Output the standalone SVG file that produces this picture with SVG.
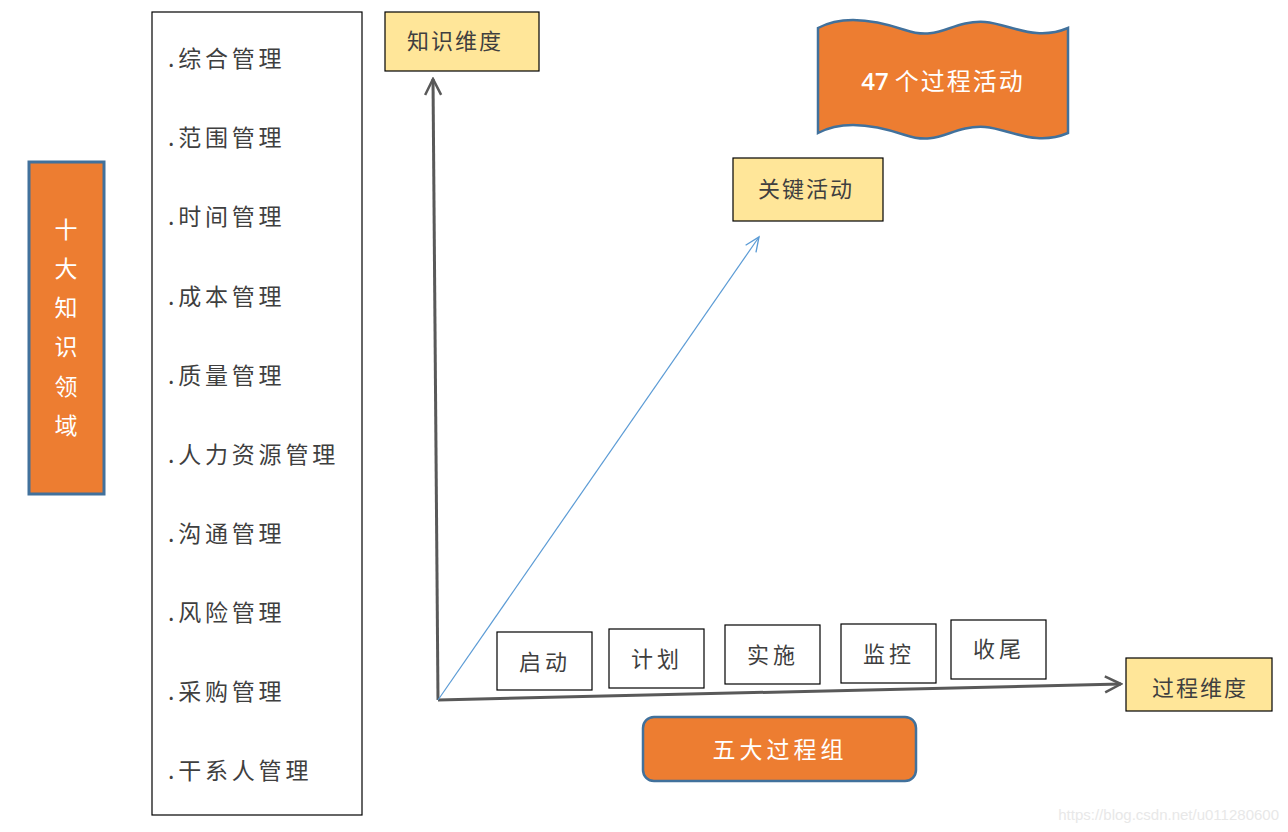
<svg xmlns="http://www.w3.org/2000/svg" width="1288" height="832" viewBox="0 0 1288 832">
<style>
.cjk{font-family:"Noto Sans CJK SC","Noto Sans",sans-serif;}
.dark{fill:#3f3f3f;font-size:22px;}
.white{fill:#ffffff;font-size:23px;}
.list{fill:#3f3f3f;font-size:23px;letter-spacing:3.8px;}
.yel{fill:#FFE699;stroke:#000;stroke-width:1.2;}
.wbox{fill:#fff;stroke:#000;stroke-width:1.2;}
.org{fill:#ED7D31;stroke:#41719C;}
.axis{stroke:#595959;stroke-width:3;fill:none;}
</style>
<defs>
<marker id="gray-arrow" viewBox="0 0 20 20" refX="18" refY="10" markerWidth="20" markerHeight="20" markerUnits="userSpaceOnUse" orient="auto">
<path d="M2,2 L18,10 L2,18" fill="none" stroke="#595959" stroke-width="2.5"/>
</marker>
<marker id="blue-arrow" viewBox="0 0 20 20" refX="18" refY="10" markerWidth="18" markerHeight="18" markerUnits="userSpaceOnUse" orient="auto">
<path d="M2,3 L18,10 L2,17" fill="none" stroke="#5B9BD5" stroke-width="1.5"/>
</marker>
</defs>
<rect width="1288" height="832" fill="#fff"/>

<g id="connectors">
<line class="axis" x1="438" y1="700" x2="433" y2="79" marker-end="url(#gray-arrow)"/>
<line class="axis" x1="438" y1="700" x2="1121" y2="684" marker-end="url(#gray-arrow)"/>
<line x1="438" y1="700" x2="759" y2="237" stroke="#5B9BD5" stroke-width="1.2" marker-end="url(#blue-arrow)"/>
</g>

<g id="ten-areas">
<rect class="org" x="29" y="162" width="75" height="332" stroke-width="3"/>
<g class="cjk white" text-anchor="middle">
<text x="66" y="238">十</text>
<text x="66" y="277">大</text>
<text x="66" y="316">知</text>
<text x="66" y="355">识</text>
<text x="66" y="395">领</text>
<text x="66" y="434">域</text>
</g>
</g>

<g id="area-list">
<rect x="152" y="12" width="210" height="803" fill="#fff" stroke="#000" stroke-width="1.2"/>
<g class="cjk list">
<text x="168" y="67">.综合管理</text>
<text x="168" y="146">.范围管理</text>
<text x="168" y="225">.时间管理</text>
<text x="168" y="305">.成本管理</text>
<text x="168" y="384">.质量管理</text>
<text x="168" y="463">.人力资源管理</text>
<text x="168" y="542">.沟通管理</text>
<text x="168" y="621">.风险管理</text>
<text x="168" y="700">.采购管理</text>
<text x="168" y="779">.干系人管理</text>
</g>
</g>

<g id="knowledge-dim">
<rect class="yel" x="385" y="12" width="154" height="59"/>
<text class="cjk dark" x="455" y="49" text-anchor="middle" letter-spacing="2">知识维度</text>
</g>

<g id="activities-47">
<path class="org" stroke-width="2.5" d="M818,28 C840,16 870,18 905,30 C940,42 950,20 985,22 C1010,24 1035,42 1068,28 L1068,133 C1035,147 1010,129 985,127 C950,125 940,147 905,135 C870,123 840,121 818,133 Z"/>
<text x="943" y="90" text-anchor="middle" fill="#fff" font-size="24"><tspan font-family="Open Sans, sans-serif" font-weight="600">47 </tspan><tspan class="cjk" letter-spacing="2">个过程活动</tspan></text>
</g>

<g id="key-activity">
<rect class="yel" x="733" y="158" width="150" height="63"/>
<text class="cjk dark" x="806" y="197" text-anchor="middle" letter-spacing="2">关键活动</text>
</g>

<g id="p-start">
<rect class="wbox" x="497" y="632" width="95" height="58"/>
<text class="cjk dark" x="545" y="670" text-anchor="middle" letter-spacing="4">启动</text>
</g>
<g id="p-plan">
<rect class="wbox" x="609" y="629" width="95" height="59"/>
<text class="cjk dark" x="657" y="667" text-anchor="middle" letter-spacing="4">计划</text>
</g>
<g id="p-exec">
<rect class="wbox" x="725" y="625" width="95" height="59"/>
<text class="cjk dark" x="773" y="663" text-anchor="middle" letter-spacing="4">实施</text>
</g>
<g id="p-monitor">
<rect class="wbox" x="841" y="624" width="95" height="59"/>
<text class="cjk dark" x="889" y="662" text-anchor="middle" letter-spacing="4">监控</text>
</g>
<g id="p-close">
<rect class="wbox" x="951" y="620" width="95" height="59"/>
<text class="cjk dark" x="999" y="657" text-anchor="middle" letter-spacing="4">收尾</text>
</g>

<g id="process-dim">
<rect class="yel" x="1126" y="658" width="146" height="53"/>
<text class="cjk dark" x="1200" y="696" text-anchor="middle" letter-spacing="2">过程维度</text>
</g>

<g id="five-groups">
<rect class="org" x="643" y="717" width="273" height="64" rx="11" stroke-width="2.5"/>
<text class="cjk white" x="780" y="758" text-anchor="middle" letter-spacing="4">五大过程组</text>
</g>

<text x="1279" y="820" text-anchor="end" font-family="Liberation Sans, sans-serif" font-size="15" fill="#e8e8e8">https://blog.csdn.net/u011280600</text>
</svg>
